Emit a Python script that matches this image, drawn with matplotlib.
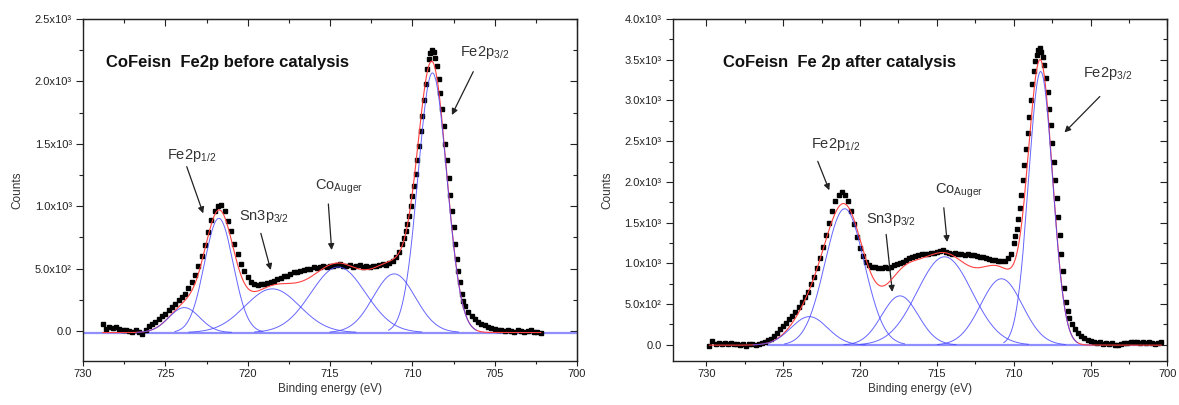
import numpy as np
import matplotlib
matplotlib.use("Agg")
import matplotlib.pyplot as plt
from matplotlib.ticker import MultipleLocator, FuncFormatter, NullFormatter

plt.rcParams['font.family'] = ['Liberation Sans', 'DejaVu Sans']
plt.rcParams['mathtext.fontset'] = 'custom'
plt.rcParams['mathtext.rm'] = 'Liberation Sans'
plt.rcParams['mathtext.it'] = 'Liberation Sans:italic'
plt.rcParams['mathtext.bf'] = 'Liberation Sans:bold'

# ---------------- data: before catalysis ----------------
before_start, before_step = 728.8, 0.2
counts_before = [
    55, 20, 35, 25, 30, 15, 10, 5, 0, -5, 5, -10, -25, 10, 40, 60, 75, 95, 120, 140,
    165, 195, 215, 245, 275, 300, 345, 390, 450, 520, 600, 690, 790, 890, 960, 1005, 1010, 960, 880, 800,
    700, 620, 540, 480, 430, 395, 375, 370, 380, 375, 385, 395, 400, 415, 425, 440, 445, 455, 470, 475,
    480, 490, 500, 495, 510, 505, 515, 520, 510, 525, 520, 530, 540, 525, 520, 530, 515, 525, 530, 515,
    525, 510, 525, 520, 530, 535, 530, 545, 560, 590, 630, 700, 800, 920, 1080, 1260, 1480, 1720, 1980, 2180,
    2250, 2190, 2020, 1780, 1500, 1230, 960, 700, 480, 300, 200, 150, 120, 95, 75, 60, 45, 30, 25, 15,
    10, 5, 0, 5, 0, -5, 5, 0, -5, 0, 5, -10, -5, -15]
# extra points read on the steep flanks of the main peak
flank_energy_before = [710.5, 710.3, 710.1, 709.9, 709.7, 709.5, 709.3, 709.1, 708.9, 708.7,
                       708.5, 708.3, 708.1, 707.9, 707.7, 707.5, 707.3, 707.1, 706.9]
flank_counts_before = [745, 855, 1000, 1165, 1370, 1600, 1850, 2100, 2230, 2235,
                       2120, 1910, 1640, 1370, 1090, 830, 580, 390, 240]
peak_center_before = [723.85, 721.75, 718.5, 714.5, 711.1, 708.78]
peak_height_before = [200, 915, 350, 525, 470, 2080]
peak_fwhm_before = [2.2, 2.05, 3.9, 3.9, 3.0, 2.05]
baseline_before = -12

# ---------------- data: after catalysis ----------------
after_start, after_step = 729.8, 0.2
counts_after = [
    -20, 40, 10, 20, 15, 25, 10, 20, 5, 15, 0, 10, -20, 5, 10, 0, 15, 20, 35, 55,
    75, 110, 150, 190, 230, 270, 310, 350, 400, 460, 520, 580, 650, 740, 830, 940, 1060, 1200, 1350, 1500,
    1640, 1760, 1840, 1870, 1840, 1760, 1640, 1480, 1320, 1190, 1090, 1020, 980, 960, 950, 945, 940, 950, 945, 960,
    975, 990, 1000, 1020, 1040, 1060, 1080, 1090, 1100, 1110, 1115, 1110, 1125, 1130, 1140, 1150, 1165, 1140, 1130, 1120,
    1125, 1110, 1120, 1105, 1115, 1100, 1105, 1090, 1080, 1075, 1060, 1055, 1045, 1040, 1030, 1025, 1030, 1060, 1120, 1250,
    1420, 1680, 2020, 2400, 2800, 3200, 3480, 3620, 3600, 3440, 3100, 2700, 2250, 1800, 1350, 900, 520, 330, 250, 190,
    140, 110, 80, 60, 45, 35, 25, 30, 15, 20, 10, 20, -5, 0, 15, 25, 20, 30, 35, 30,
    25, 30, 20, 30, 25, 15, 25, 35]
flank_energy_after = [709.9, 709.7, 709.5, 709.3, 709.1, 708.9, 708.7, 708.5, 708.3, 708.1,
                      707.9, 707.7, 707.5, 707.3, 707.1, 706.9, 706.7, 706.5]
flank_counts_after = [1330, 1540, 1840, 2210, 2600, 3000, 3360, 3560, 3640, 3530,
                      3280, 2900, 2480, 2020, 1570, 1120, 700, 410]
peak_center_after = [723.3, 721.0, 717.4, 714.5, 710.8, 708.25]
peak_height_after = [350, 1675, 605, 1085, 815, 3360]
peak_fwhm_after = [2.8, 3.0, 2.8, 4.2, 3.2, 1.84]
baseline_after = -5

y_ticks_before = [0, 500, 1000, 1500, 2000, 2500]
y_ticks_after = [0, 500, 1000, 1500, 2000, 2500, 3000, 3500, 4000]

SUP = {2: '\u00b2', 3: '\u00b3'}


def sci_fmt(v, pos):
    if abs(v) < 1e-9:
        return '0.0'
    e = int(np.floor(np.log10(abs(v)) + 1e-9))
    m = v / 10 ** e
    return f'{m:.1f}x10{SUP.get(e, str(e))}'


def gauss(x, c, h, w):
    s = w / 2.3548
    return h * np.exp(-0.5 * ((x - c) / s) ** 2)


def draw_panel(ax, start, step, counts, fl_e, fl_c, centers, heights, fwhms, base, xlim, ylim, yticks,
               title, title_xy, base_range, annots):
    counts = np.asarray(counts, dtype=float)
    energy = start - step * np.arange(len(counts))
    ax.plot(base_range, [base, base], color='#8f8fff', lw=1.6, zorder=2)
    ax.plot(energy, counts, ls='none', marker='s', ms=2.6, color='black', zorder=3)
    ax.plot(fl_e, fl_c, ls='none', marker='s', ms=2.6, color='black', zorder=3)
    xf = np.linspace(energy.min(), energy.max(), 1200)
    env = np.full_like(xf, base)
    for c, h, w in zip(centers, heights, fwhms):
        env += gauss(xf, c, h, w)
    ax.plot(xf, env, color='#ff4040', lw=0.8, zorder=4)
    for c, h, w in zip(centers, heights, fwhms):
        xc = np.linspace(c - 1.3 * w, c + 1.3 * w, 300)
        ax.plot(xc, base + gauss(xc, c, h, w), color='#4a4aff', lw=0.7, alpha=0.85, zorder=5)

    ax.set_xlim(*xlim)
    ax.set_ylim(*ylim)
    ax.xaxis.set_major_locator(MultipleLocator(5))
    ax.xaxis.set_minor_locator(MultipleLocator(2.5))
    ax.set_yticks(yticks)
    ax.yaxis.set_minor_locator(MultipleLocator(250))
    ax.yaxis.set_major_formatter(FuncFormatter(sci_fmt))
    ax.xaxis.set_major_formatter(FuncFormatter(lambda v, p: f'{v:.0f}'))
    ax.tick_params(axis='both', which='both', labelsize=8, colors='#222222', direction='out')
    ax.tick_params(axis='y', which='major', length=5, width=0.8, pad=3)
    ax.tick_params(axis='y', which='minor', length=3, width=0.8)
    ax.tick_params(axis='x', which='major', length=3.5, width=0.8, pad=2)
    ax.tick_params(axis='x', which='minor', length=2.5, width=0.8)
    for spine in ax.spines.values():
        spine.set_linewidth(1.0)
        spine.set_color('#222222')

    top = ax.secondary_xaxis('top')
    top.xaxis.set_major_locator(MultipleLocator(5))
    top.xaxis.set_minor_locator(MultipleLocator(2.5))
    top.xaxis.set_major_formatter(NullFormatter())
    top.tick_params(which='major', direction='in', length=5, width=0.8, colors='#222222')
    top.tick_params(which='minor', direction='in', length=3, width=0.8, colors='#222222')
    right = ax.secondary_yaxis('right')
    right.set_yticks(yticks)
    right.yaxis.set_minor_locator(MultipleLocator(250))
    right.yaxis.set_major_formatter(NullFormatter())
    right.tick_params(which='major', direction='in', length=5, width=0.8, colors='#222222')
    right.tick_params(which='minor', direction='in', length=3, width=0.8, colors='#222222')

    ax.set_xlabel('Binding energy (eV)', fontsize=8.5, color='#333333', labelpad=3)
    ax.set_ylabel('Counts', fontsize=8.5, color='#333333', labelpad=8)
    ax.text(title_xy[0], title_xy[1], title, fontsize=12, fontweight='bold', ha='left', va='center',
            color='#111111')
    for txt, txy, a0, a1 in annots:
        ax.text(txy[0], txy[1], txt, fontsize=10.5, ha='left', va='center', color='#333333')
        ax.annotate('', xy=a1, xytext=a0,
                    arrowprops=dict(arrowstyle='-|>', color='#222222', lw=0.9, mutation_scale=9,
                                    shrinkA=0, shrinkB=0))


fig = plt.figure(figsize=(11.79, 4.05), dpi=100)
ax1 = fig.add_axes([0.0704, 0.1086, 0.4190, 0.8445])
ax2 = fig.add_axes([0.5704, 0.1086, 0.4198, 0.8445])

annots_before = [
    (r'Fe2p$_{3/2}$', (707.1, 2228), (706.3, 2078), (707.6, 1731)),
    (r'Fe2p$_{1/2}$', (724.9, 1410), (723.7, 1317), (722.7, 943)),
    (r'Sn3p$_{3/2}$', (720.5, 916), (719.2, 783), (718.6, 489)),
    (r'Co$_{\mathrm{Auger}}$', (715.9, 1156), (715.1, 1018), (714.9, 649)),
]
annots_after = [
    (r'Fe2p$_{3/2}$', (705.5, 3326), (704.4, 3048), (706.7, 2607)),
    (r'Fe2p$_{1/2}$', (723.2, 2457), (722.75, 2252), (722.0, 1897)),
    (r'Sn3p$_{3/2}$', (719.6, 1539), (718.3, 1355), (717.9, 649)),
    (r'Co$_{\mathrm{Auger}}$', (715.1, 1885), (714.55, 1682), (714.33, 1261)),
]

draw_panel(ax1, before_start, before_step, counts_before, flank_energy_before, flank_counts_before,
           peak_center_before, peak_height_before, peak_fwhm_before, baseline_before,
           (730, 700), (-240, 2500), y_ticks_before,
           'CoFeisn  Fe2p before catalysis', (728.6, 2150), (730, 700), annots_before)
draw_panel(ax2, after_start, after_step, counts_after, flank_energy_after, flank_counts_after,
           peak_center_after, peak_height_after, peak_fwhm_after, baseline_after,
           (732.2, 700), (-200, 4000), y_ticks_after,
           'CoFeisn  Fe 2p after catalysis', (728.9, 3466), (726.0, 700.5), annots_after)

fig.savefig('out.png', dpi=100)
